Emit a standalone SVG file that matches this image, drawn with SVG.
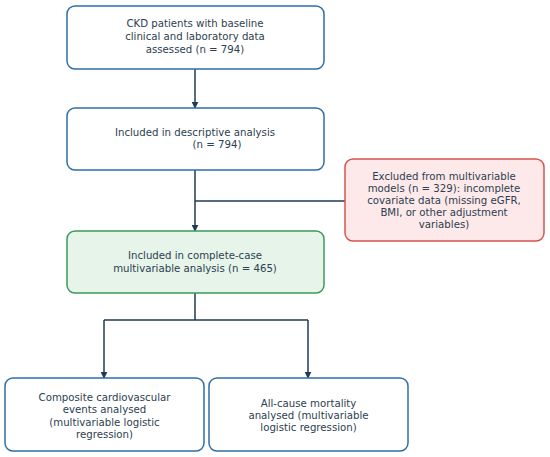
<svg xmlns="http://www.w3.org/2000/svg" width="550" height="457" viewBox="0 0 550 457">
<defs>
<style>
.box{fill:#ffffff;stroke:#2f6ea5;stroke-width:1.5}
.excl{fill:#fde9e9;stroke:#d9534f;stroke-width:1.5}
.incl{fill:#e6f4ea;stroke:#3a9a5b;stroke-width:1.5}
text{font-family:"DejaVu Sans",sans-serif;font-size:10.2px;fill:#2c3e50;text-anchor:middle}
.conn{fill:none;stroke:#1f3a57;stroke-width:1.5}
</style>
<marker id="ah" viewBox="0 0 10 10" refX="9" refY="5" markerWidth="7" markerHeight="7" markerUnits="userSpaceOnUse" orient="auto">
<path d="M0,0 L10,5 L0,10 z" fill="#1f3a57"/>
</marker>
</defs>
<g id="connectors">
<line class="conn" x1="195" y1="69" x2="195" y2="108" marker-end="url(#ah)"/>
<line class="conn" x1="195" y1="170" x2="195" y2="231" marker-end="url(#ah)"/>
<line class="conn" x1="195" y1="201" x2="345" y2="201"/>
<path class="conn" d="M195,293 V320 M104,320 H308"/>
<line class="conn" x1="104" y1="320" x2="104" y2="378" marker-end="url(#ah)"/>
<line class="conn" x1="308" y1="320" x2="308" y2="378" marker-end="url(#ah)"/>
</g>
<g id="n1">
<rect class="box" x="67" y="6" width="257" height="63" rx="8"/>
<text x="195" y="27">CKD patients with baseline</text>
<text x="195" y="40">clinical and laboratory data</text>
<text x="195" y="53">assessed (n = 794)</text>
</g>
<g id="n2">
<rect class="box" x="67" y="108" width="257" height="62" rx="8"/>
<text x="195" y="136">Included in descriptive analysis</text>
<text x="217" y="148">(n = 794)</text>
</g>
<g id="n3">
<rect class="excl" x="345" y="159" width="199" height="82" rx="8"/>
<text x="444" y="180">Excluded from multivariable</text>
<text x="444" y="192">models (n = 329): incomplete</text>
<text x="444" y="204">covariate data (missing eGFR,</text>
<text x="444" y="216">BMI, or other adjustment</text>
<text x="444" y="228">variables)</text>
</g>
<g id="n4">
<rect class="incl" x="67" y="231" width="257" height="62" rx="8"/>
<text x="195" y="259">Included in complete-case</text>
<text x="195" y="272">multivariable analysis (n = 465)</text>
</g>
<g id="n5">
<rect class="box" x="5" y="378" width="199" height="73" rx="8"/>
<text x="104.5" y="401">Composite cardiovascular</text>
<text x="104.5" y="413">events analysed</text>
<text x="104.5" y="426">(multivariable logistic</text>
<text x="104.5" y="438">regression)</text>
</g>
<g id="n6">
<rect class="box" x="209" y="378" width="199" height="73" rx="8"/>
<text x="308.5" y="407">All-cause mortality</text>
<text x="308.5" y="419">analysed (multivariable</text>
<text x="308.5" y="431">logistic regression)</text>
</g>
</svg>
